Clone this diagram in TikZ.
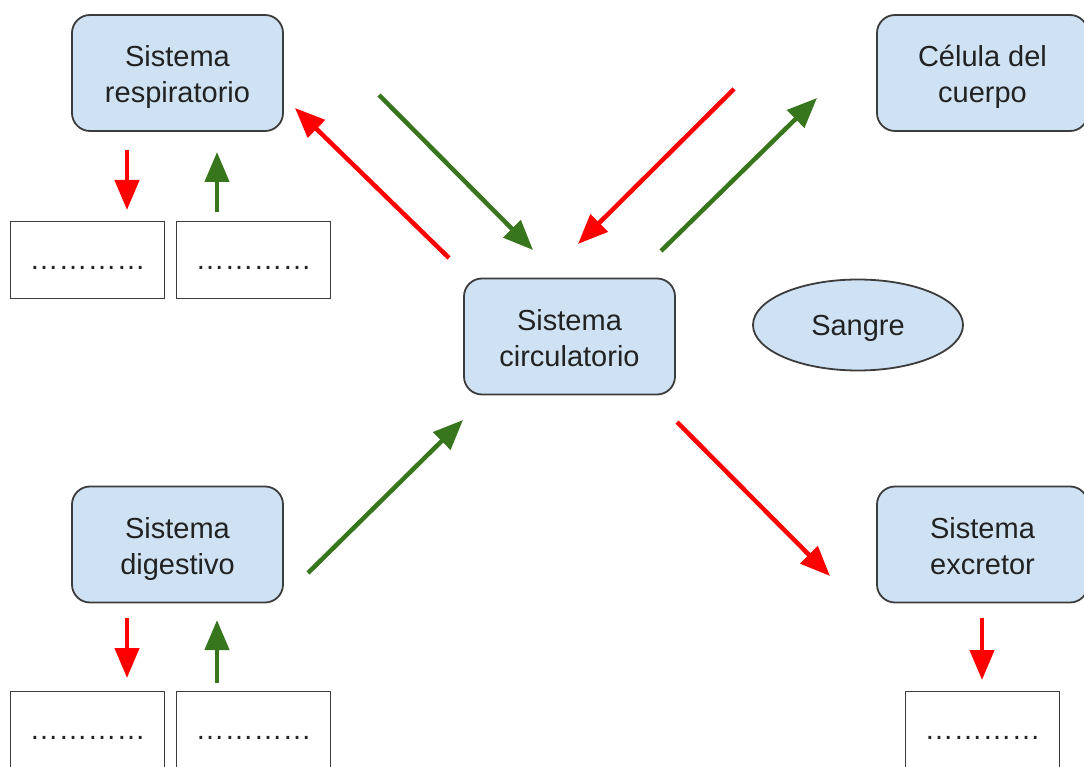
\documentclass[tikz,border=0pt]{standalone}
\usepackage{fontspec}
\setmainfont{Liberation Sans}
\usetikzlibrary{arrows.meta,shapes.geometric}
\definecolor{boxblue}{HTML}{CFE2F3}
\definecolor{lossred}{HTML}{FF0000}
\definecolor{gaingreen}{HTML}{38761D}
\definecolor{edgegray}{HTML}{3C3C3C}
\definecolor{textgray}{HTML}{222222}

\tikzset{
  organ/.style={draw=edgegray, line width=1.8pt, fill=boxblue, rounded corners=18pt,
    minimum width=211pt, minimum height=116pt, text=textgray,
    font=\fontsize{29}{36}\selectfont},
  blank/.style={draw=edgegray, line width=1.8pt, fill=white, minimum width=154pt,
    minimum height=77pt, text=textgray, font=\fontsize{29}{36}\selectfont},
  fluid/.style={ellipse, draw=edgegray, line width=1.8pt, fill=boxblue,
    minimum width=210pt, minimum height=91pt, text=textgray,
    font=\fontsize{29}{36}\selectfont, execute at begin node={\rule{0pt}{27pt}}},
  loss/.style={draw=lossred, line width=4.5pt, -{Triangle[length=30pt,width=24pt]}},
  gain/.style={draw=gaingreen, line width=4.5pt, -{Triangle[length=30pt,width=24pt]}}
}
\newcommand{\organtext}[2]{\raisebox{-4.5pt}[\height][\depth]{\begin{tabular}{@{}c@{}}#1\\#2\end{tabular}}}
\newcommand{\blankline}{\vphantom{Sp}\raisebox{-2pt}{…………}}

\begin{document}
\begin{tikzpicture}[x=1pt, y=-1pt]
	\useasboundingbox (0,0) rectangle (1084,767);
	% organos
	\node[organ] (resp) at (177.5,73) {\organtext{Sistema}{respiratorio}};
	\node[organ] (cel) at (982.5,73) {\organtext{Célula del}{cuerpo}};
	\node[organ] (circ) at (569.5,336.5) {\organtext{Sistema}{circulatorio}};
	\node[fluid] (sangre) at (858,325) {Sangre};
	\node[organ] (dig) at (177.5,544.5) {\organtext{Sistema}{digestivo}};
	\node[organ] (exc) at (982.5,544.5) {\organtext{Sistema}{excretor}};
	% recuadros en blanco
	\node[blank] (resp-a) at (87.5,260) {\blankline};
	\node[blank] (resp-b) at (253.5,260) {\blankline};
	\node[blank] (dig-a) at (87.5,730) {\blankline};
	\node[blank] (dig-b) at (253.5,730) {\blankline};
	\node[blank] (exc-a) at (982.5,730) {\blankline};
	% extremos de las flechas
	\coordinate (resp-o1) at (127,150);
	\coordinate (resp-o2) at (127,210);
	\coordinate (resp-i1) at (217,212);
	\coordinate (resp-i2) at (217,152);
	\coordinate (circ-resp1) at (449,258);
	\coordinate (circ-resp2) at (295,108);
	\coordinate (resp-circ1) at (379,95);
	\coordinate (resp-circ2) at (533,250);
	\coordinate (cel-circ1) at (734,89);
	\coordinate (cel-circ2) at (578,244);
	\coordinate (circ-cel1) at (661,251);
	\coordinate (circ-cel2) at (817,98);
	\coordinate (dig-circ1) at (308,573);
	\coordinate (dig-circ2) at (463,420);
	\coordinate (circ-exc1) at (677,422);
	\coordinate (circ-exc2) at (830,576);
	\coordinate (dig-o1) at (127,618);
	\coordinate (dig-o2) at (127,678);
	\coordinate (dig-i1) at (217,683);
	\coordinate (dig-i2) at (217,620);
	\coordinate (exc-o1) at (982,618);
	\coordinate (exc-o2) at (982,680);
	% flechas
	\draw[loss] (resp-o1) -- (resp-o2);
	\draw[gain] (resp-i1) -- (resp-i2);
	\draw[loss] (circ-resp1) -- (circ-resp2);
	\draw[gain] (resp-circ1) -- (resp-circ2);
	\draw[loss] (cel-circ1) -- (cel-circ2);
	\draw[gain] (circ-cel1) -- (circ-cel2);
	\draw[gain] (dig-circ1) -- (dig-circ2);
	\draw[loss] (circ-exc1) -- (circ-exc2);
	\draw[loss] (dig-o1) -- (dig-o2);
	\draw[gain] (dig-i1) -- (dig-i2);
	\draw[loss] (exc-o1) -- (exc-o2);
\end{tikzpicture}
\end{document}
